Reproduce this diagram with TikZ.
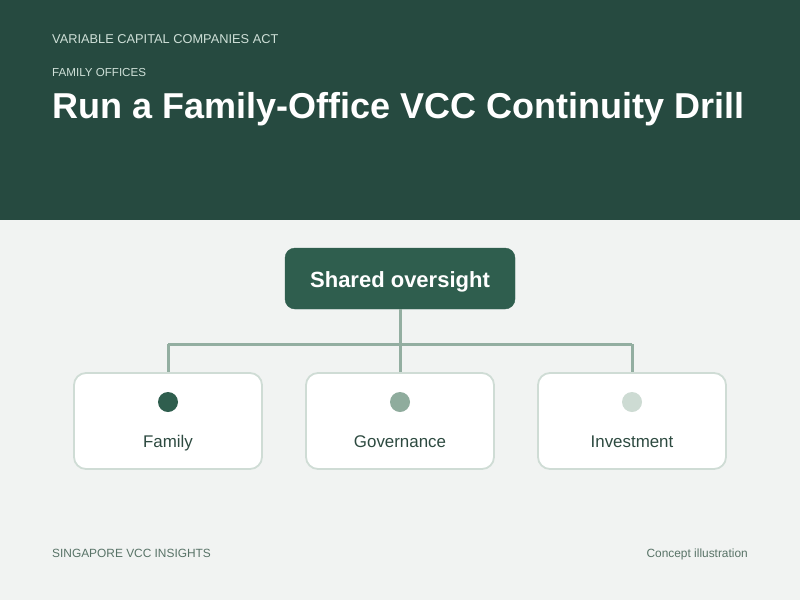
\documentclass[tikz,border=0pt]{standalone}
\usepackage{fontspec}
\setmainfont{Liberation Sans}
\definecolor{hdr}{HTML}{264A40}
\definecolor{bg}{HTML}{F1F3F2}
\definecolor{topbox}{HTML}{2F5E4E}
\definecolor{conn}{HTML}{93AEA1}
\definecolor{cardline}{HTML}{CFDCD5}
\definecolor{dotA}{HTML}{2F5E4E}
\definecolor{dotB}{HTML}{8FAC9D}
\definecolor{dotC}{HTML}{CDDBD3}
\definecolor{labtxt}{HTML}{2D4A40}
\definecolor{foot}{HTML}{587367}
\definecolor{hsub}{HTML}{CFE0D8}
\tikzset{
  card/.style={draw=cardline, line width=1.8pt, fill=white, rounded corners=12pt, minimum width=188pt, minimum height=96pt, inner sep=0pt},
  lead/.style={draw=topbox, fill=topbox, rounded corners=10pt, minimum width=230pt, minimum height=61pt, inner sep=0pt},
  leadtext/.style={text=white, font=\bfseries\fontsize{22}{26}\selectfont, anchor=base, inner sep=0pt},
  wire/.style={draw=conn, line width=3pt},
  cardlabel/.style={text=labtxt, font=\fontsize{16.9}{20}\selectfont, anchor=base},
  dotmark/.style={circle, minimum size=20pt, inner sep=0pt},
  headsmall/.style={text=hsub, anchor=base west, inner sep=0pt},
  footnote/.style={text=foot, font=\fontsize{11.9}{14}\selectfont, inner sep=0pt}
}
\begin{document}
\begin{tikzpicture}[x=1pt,y=-1pt]
\useasboundingbox (0,0) rectangle (800,600);
\fill[bg] (0,0) rectangle (800,600);
\fill[hdr] (0,0) rectangle (800,220);
\node[headsmall, font=\fontsize{12.8}{15}\selectfont] (act) at (52,43) {VARIABLE CAPITAL COMPANIES ACT};
\node[headsmall, font=\fontsize{11.6}{14}\selectfont] (fo) at (52,76) {FAMILY OFFICES};
\node[anchor=base west, inner sep=0pt, text=white, font=\bfseries\fontsize{36}{42}\selectfont] (title) at (52,118) {Run a Family-Office VCC Continuity Drill};

\node[lead] (top) at (400,278.5) {};
\node[leadtext] (toplabel) at (400,287) {Shared oversight};
\node[card] (c1) at (168,421) {};
\node[card] (c2) at (400,421) {};
\node[card] (c3) at (632,421) {};
\coordinate (j) at (400,344);
\coordinate (jl) at (168,344);
\coordinate (jr) at (632,344);
\draw[wire] (top.south) -- (j);
\draw[wire] (jl) -- (jr);
\draw[wire] (jl) -- (c1.north);
\draw[wire] (j) -- (c2.north);
\draw[wire] (jr) -- (c3.north);

\node[dotmark, fill=dotA] (d1) at (168,402) {};
\node[dotmark, fill=dotB] (d2) at (400,402) {};
\node[dotmark, fill=dotC] (d3) at (632,402) {};
\node[cardlabel] (l1) at (168,447.5) {Family};
\node[cardlabel] (l2) at (400,447.5) {Governance};
\node[cardlabel] (l3) at (632,447.5) {Investment};

\node[footnote, anchor=base west] (fl) at (52,557.5) {SINGAPORE VCC INSIGHTS};
\node[footnote, anchor=base east] (fr) at (748,557.5) {Concept illustration};
\end{tikzpicture}
\end{document}
